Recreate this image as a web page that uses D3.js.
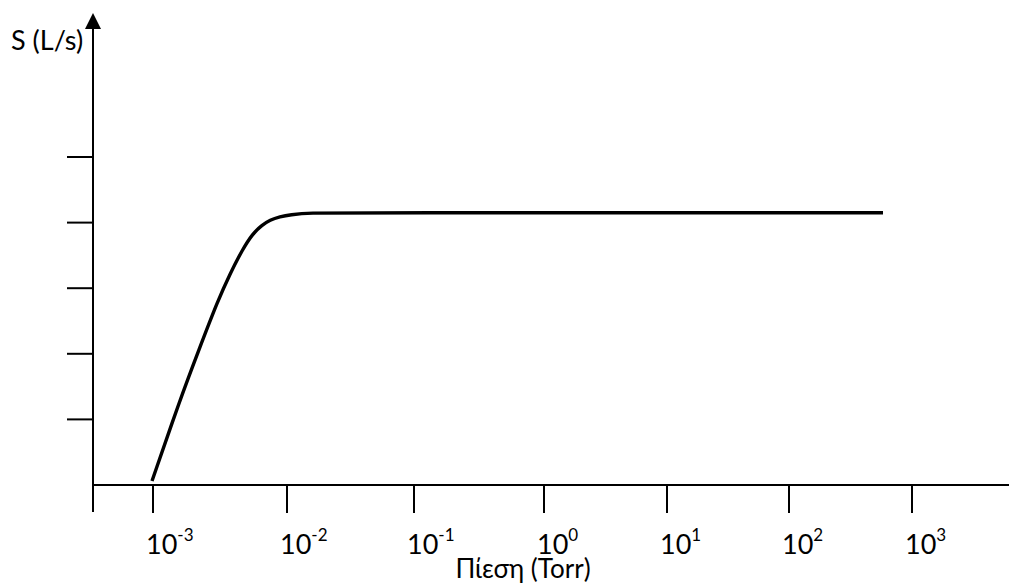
<!DOCTYPE html>
<html>
<head>
<meta charset="utf-8">
<script src="https://cdn.jsdelivr.net/npm/d3@7"></script>
<style>
  body { margin: 0; background: #fff; }
  svg text { font-family: Lato, "Noto Sans", sans-serif; fill: #000; }
</style>
</head>
<body>
<div id="vis"></div>
<script>
// Values
var pressure = [0.000983, 0.00159, 0.00220, 0.00306, 0.00376, 0.00462, 0.00558,
                0.00651, 0.00746, 0.00887, 0.01056, 0.0152, 0.03, 581];
var speed    = [0.06, 1.30, 2.06, 2.82, 3.22, 3.58, 3.84,
                3.96, 4.04, 4.09, 4.12, 4.15, 4.15, 4.15];
var decadeExponents = [-3, -2, -1, 0, 1, 2, 3];
var speedTicks = [1, 2, 3, 4, 5];

var width = 1009;
var height = 584;

// axes origin and extents
var axisX = 93;
var axisY = 485;
var axisTop = 13;
var axisBottom = 512;
var tickLen = 28;

var svg = d3.select('#vis')
  .append('svg')
  .attr('width', width)
  .attr('height', height);

// the decades are hand drawn, so spacing is a little uneven
var x = d3.scaleLog()
  .domain(decadeExponents.map(function (e) { return Math.pow(10, e); }))
  .range([153, 287, 414, 544, 667, 789, 912]);

var y = d3.scaleLinear()
  .domain([0, 5])
  .range([axisY, 157]);

// x axis
svg.append('line')
  .attr('x1', axisX).attr('x2', width)
  .attr('y1', axisY).attr('y2', axisY)
  .attr('stroke', '#000').attr('stroke-width', 2);

// y axis with arrow head
svg.append('line')
  .attr('x1', axisX).attr('x2', axisX)
  .attr('y1', axisBottom).attr('y2', axisTop + 12)
  .attr('stroke', '#000').attr('stroke-width', 2);

svg.append('path')
  .attr('d', 'M' + axisX + ',' + axisTop + 'L' + (axisX + 8) + ',' + (axisTop + 16) +
             'L' + (axisX - 8) + ',' + (axisTop + 16) + 'Z')
  .attr('fill', '#000');

// y ticks (no labels)
svg.selectAll('.ytick')
  .data(speedTicks)
  .enter().append('line')
  .attr('class', 'ytick')
  .attr('x1', axisX - 26).attr('x2', axisX)
  .attr('y1', function (d) { return y(d); })
  .attr('y2', function (d) { return y(d); })
  .attr('stroke', '#000').attr('stroke-width', 2);

// x ticks
svg.selectAll('.xtick')
  .data(decadeExponents)
  .enter().append('line')
  .attr('class', 'xtick')
  .attr('x1', function (d) { return x(Math.pow(10, d)); })
  .attr('x2', function (d) { return x(Math.pow(10, d)); })
  .attr('y1', axisY).attr('y2', axisY + tickLen)
  .attr('stroke', '#000').attr('stroke-width', 2);

var labels = svg.selectAll('.xlabel')
  .data(decadeExponents)
  .enter().append('text')
  .attr('class', 'xlabel')
  .attr('x', function (d) { return x(Math.pow(10, d)) - 7; })
  .attr('y', 554)
  .style('font-size', '27px');

labels.append('tspan').text('10');
labels.append('tspan')
  .attr('dy', -13)
  .style('font-size', '17px')
  .text(function (d) { return d; });

// axis titles
svg.append('text')
  .attr('x', 11)
  .attr('y', 50)
  .style('font-size', '27px')
  .text('S (L/s)');

svg.append('text')
  .attr('x', 523)
  .attr('y', 578)
  .attr('text-anchor', 'middle')
  .style('font-size', '26px')
  .text('Πίεση (Torr)');

// pumping speed curve
var line = d3.line()
  .x(function (d) { return x(d[0]); })
  .y(function (d) { return y(d[1]); })
  .curve(d3.curveBasis);

svg.append('path')
  .datum(d3.zip(pressure, speed))
  .attr('d', line)
  .attr('fill', 'none')
  .attr('stroke', '#000')
  .attr('stroke-width', 3.4);
</script>
</body>
</html>
